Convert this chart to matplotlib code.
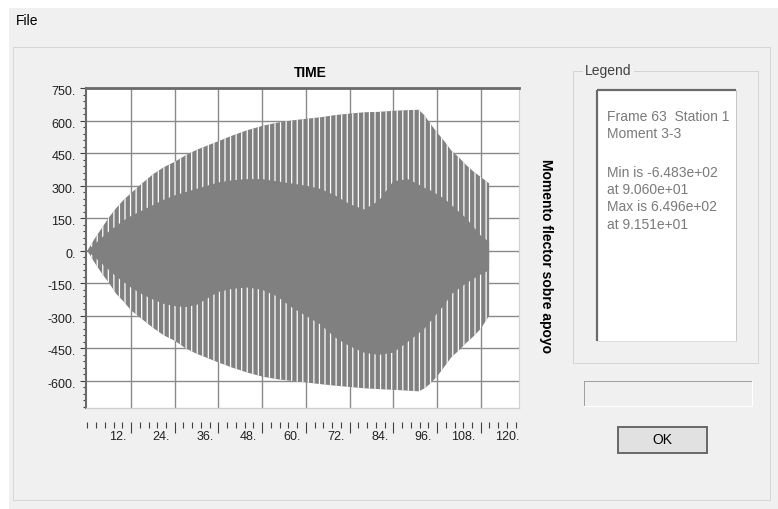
import matplotlib
matplotlib.use('Agg')
import matplotlib.pyplot as plt
from matplotlib.patches import Rectangle
from matplotlib.ticker import MultipleLocator, FixedLocator
import matplotlib.transforms as mtransforms

plt.rcParams['font.family'] = ['Liberation Sans', 'DejaVu Sans']
plt.rcParams['hatch.linewidth'] = 0.9
plt.rcParams['hatch.color'] = 'white'

# ---------------- data ----------------
time_s = [0, 2, 4, 6, 8, 10, 12, 15, 18, 21, 24, 27, 30, 33, 36, 40, 44, 48, 52, 56,
          60, 64, 68, 72, 76, 80, 84, 88, 91, 92.5, 94, 96, 98, 100, 102, 104, 106, 108, 110.3]
upper_outer = [0, 55, 105, 155, 198, 235, 265, 310, 352, 385, 410, 440, 465, 485, 505, 532, 556, 575, 590, 600,
               608, 615, 625, 632, 638, 640, 645, 648, 649.6, 625, 590, 545, 505, 460, 430, 395, 365, 340, 310]
lower_outer = [0, -55, -105, -150, -200, -235, -275, -315, -355, -390, -415, -450, -475, -495, -515, -540, -562, -580, -592, -600,
               -607, -615, -622, -628, -634, -638, -641, -645, -648.3, -635, -615, -580, -535, -490, -460, -425, -395, -360, -300]
upper_inner = [0, 30, 60, 90, 115, 140, 160, 185, 210, 235, 255, 270, 285, 300, 315, 325, 330, 330, 320, 310,
               300, 285, 255, 215, 190, 230, 320, 330, 305, 290, 280, 260, 240, 210, 180, 150, 110, 70, 40]
lower_inner = [0, -30, -60, -90, -120, -145, -170, -200, -225, -245, -255, -260, -250, -220, -190, -175, -170, -180, -210, -260,
               -300, -340, -400, -440, -470, -480, -470, -420, -380, -360, -330, -290, -250, -200, -175, -150, -130, -110, -90]

y_ticks = [-600, -450, -300, -150, 0, 150, 300, 450, 600, 750]
y_tick_labels = ["-600.", "-450.", "-300.", "-150.", "0.", "150.", "300.", "450.", "600.", "750."]
x_ticks = [12, 24, 36, 48, 60, 72, 84, 96, 108, 120]
x_tick_labels = ["12.", "24.", "36.", "48.", "60.", "72.", "84.", "96.", "108.", "120."]

title_text = "TIME"
ylabel_text = "Momento flector sobre apoyo"
legend_title = "Legend"
legend_lines = ["Frame 63  Station 1", "Moment 3-3", "",
                "Min is -6.483e+02", "at 9.060e+01", "Max is 6.496e+02", "at 9.151e+01"]

# ---------------- figure ----------------
W, H = 778, 509
DPI = 100
fig = plt.figure(figsize=(W / DPI, H / DPI), dpi=DPI, facecolor='#f0f0f0')

# background "dialog" layer in pixel coordinates
bg = fig.add_axes([0, 0, 1, 1], zorder=0)
bg.set_xlim(0, W)
bg.set_ylim(H, 0)
bg.axis('off')
bg.patch.set_visible(False)

def px(v):
    return v * 72.0 / DPI

bg.add_patch(Rectangle((0, 0), W, 8, fc='white', ec='none'))
bg.add_patch(Rectangle((0, 0), 9, H, fc='white', ec='none'))
bg.text(16, 21, "File", fontsize=10, ha='left', va='center', color='black')
bg.add_patch(Rectangle((13, 47), 757, 453, fill=False, ec='#d6d6d6', lw=px(1)))

bg.text(310, 72.5, title_text, fontsize=10, fontweight='bold', ha='center', va='center', color='black')
bg.text(546, 256, ylabel_text, fontsize=10, fontweight='bold', rotation=270,
        ha='center', va='center', color='black')

# Legend group box
bg.add_patch(Rectangle((573, 71), 185, 292, fill=False, ec='#d4d4d4', lw=px(1)))
bg.text(585, 71, legend_title, fontsize=10, ha='left', va='center', color='#404040',
        bbox=dict(fc='#f0f0f0', ec='none', pad=1.5))
bg.add_patch(Rectangle((597, 90), 139, 251, fc='white', ec='none'))
bg.plot([597, 736], [90, 90], color='#6a6a6a', lw=px(2.2), solid_capstyle='butt')
bg.plot([597, 597], [90, 341], color='#6a6a6a', lw=px(2.2), solid_capstyle='butt')
bg.plot([736, 736], [90, 341], color='#c8c8c8', lw=px(1))
bg.plot([597, 736], [341, 341], color='#dcdcdc', lw=px(1))
for i, line in enumerate(legend_lines):
    y = 117 + 17.2 * i + (4.4 if i >= 3 else 0)
    bg.text(607, y, line, fontsize=10, ha='left', va='center', color='#7a7a7a')

# empty status box
bg.plot([584, 752], [381, 381], color='#a0a0a0', lw=px(1))
bg.plot([584, 584], [381, 406], color='#a0a0a0', lw=px(1))
bg.plot([584, 752], [406, 406], color='white', lw=px(1))
bg.plot([752, 752], [381, 406], color='white', lw=px(1))

# OK button
bg.add_patch(Rectangle((618, 427), 89, 26, fc='#e1e1e1', ec='#6a6a6a', lw=px(2)))
bg.text(662.5, 440, "OK", fontsize=10, ha='center', va='center', color='black')

# ---------------- plot axes ----------------
L, T, R, B = 86, 88, 519, 408
ax = fig.add_axes([L / W, 1 - B / H, (R - L) / W, (B - T) / H], zorder=1)
ax.set_facecolor('white')
ax.set_xlim(-0.36, 118.5)
ax.set_ylim(-725, 750)

sig = '#808080'
ax.fill_between(time_s, lower_outer, upper_outer, facecolor=sig, edgecolor='white',
                hatch='|||', linewidth=0, zorder=2)
ax.fill_between(time_s, lower_inner, upper_inner, facecolor=sig, linewidth=0, zorder=3)

ax.xaxis.set_major_locator(FixedLocator(x_ticks))
ax.xaxis.set_minor_locator(MultipleLocator(2.4))
ax.yaxis.set_major_locator(FixedLocator(y_ticks))
ax.yaxis.set_minor_locator(MultipleLocator(30))
ax.set_axisbelow(True)
ax.grid(True, which='major', color='#8a8a8a', lw=1.0)

ax.tick_params(axis='x', which='major', direction='out', length=8, width=0.8,
               color='#404040', labelbottom=False)
ax.tick_params(axis='x', which='minor', direction='out', length=4.3, width=0.8, color='#404040')
ax.tick_params(axis='y', which='major', direction='out', length=4.5, width=0.8,
               color='#404040', labelleft=False)
ax.tick_params(axis='y', which='minor', direction='out', length=2.5, width=0.8, color='#404040')

ax.spines['bottom'].set_position(('outward', 10))
ax.spines['bottom'].set_color('none')
ax.spines['top'].set_color('#6a6a6a')
ax.spines['top'].set_linewidth(2.0)
ax.spines['left'].set_color('#6a6a6a')
ax.spines['left'].set_linewidth(1.5)
ax.spines['right'].set_color('#d0d0d0')
ax.spines['right'].set_linewidth(0.8)
ax.plot([0, 1], [0, 0], transform=ax.transAxes, color='#d0d0d0', lw=1.0,
        clip_on=False, zorder=5)

xtrans = mtransforms.blended_transform_factory(ax.transData, ax.transAxes) + \
    mtransforms.ScaledTranslation(-5 / DPI, -29 / DPI, fig.dpi_scale_trans)
for v, lbl in zip(x_ticks, x_tick_labels):
    ax.text(v, 0, lbl, transform=xtrans, ha='right', va='center', fontsize=9,
            color='#202020', clip_on=False)

ytrans = mtransforms.blended_transform_factory(ax.transAxes, ax.transData) + \
    mtransforms.ScaledTranslation(-10.5 / DPI, -4 / DPI, fig.dpi_scale_trans)
for v, lbl in zip(y_ticks, y_tick_labels):
    ax.text(0, v, lbl, transform=ytrans, ha='right', va='center', fontsize=9,
            color='#202020', clip_on=False)

fig.savefig('out.png', dpi=DPI, facecolor=fig.get_facecolor())
